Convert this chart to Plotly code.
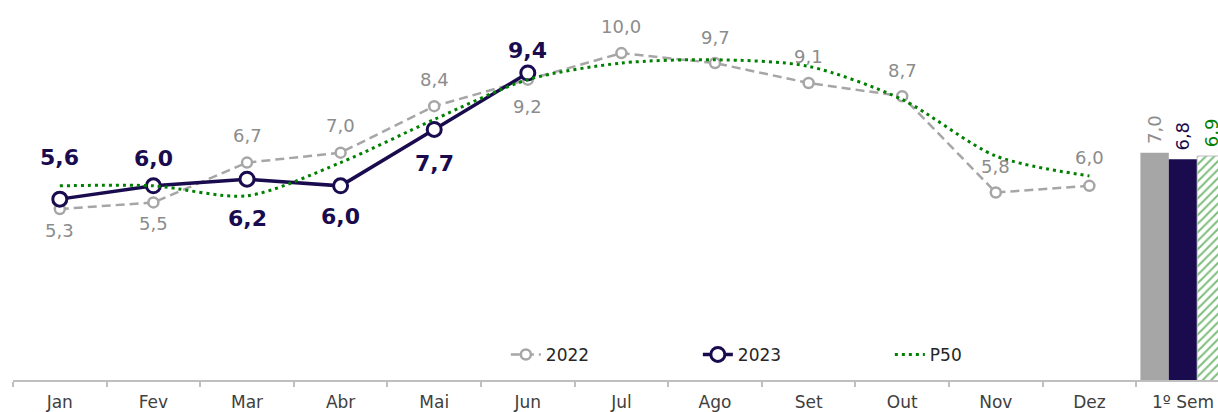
import plotly.graph_objects as go

months = ["Jan", "Fev", "Mar", "Abr", "Mai", "Jun", "Jul", "Ago", "Set", "Out", "Nov", "Dez"]
semester_label = "1º Sem"
categories = months + [semester_label]

v2022 = [5.3, 5.5, 6.7, 7.0, 8.4, 9.2, 10.0, 9.7, 9.1, 8.7, 5.8, 6.0]
v2023 = [5.6, 6.0, 6.2, 6.0, 7.7, 9.4]
p50 = [6.0, 6.0, 5.7, 6.7, 8.0, 9.2, 9.7, 9.8, 9.6, 8.6, 6.9, 6.3]

sem_2022 = 7.0
sem_2023 = 6.8
sem_p50 = 6.9

# label offsets (pixels, positive = above)
shift_2022 = [-21, -21, 27, 27, 27, -27, 27, 26, 26, 26, 26, 28]
shift_2023 = [42, 27, -39, -31, -34, 23]

GRAY = "#a6a6a6"
GRAY_TXT = "#8c8c8c"
NAVY = "#1a0b4f"
GREEN = "#008000"
FONT = "DejaVu Sans"

def fmt(v):
    return f"{v:.1f}".replace(".", ",")

fig = go.Figure()

fig.add_trace(go.Scatter(
    x=months, y=v2022, name="2022", mode="lines+markers",
    line=dict(color=GRAY, width=2.5, dash="9px,5px"),
    marker=dict(size=10, color="white", line=dict(color=GRAY, width=2.5)),
))
fig.add_trace(go.Scatter(
    x=months[:len(v2023)], y=v2023, name="2023", mode="lines+markers",
    line=dict(color=NAVY, width=3.5),
    marker=dict(size=14, color="white", line=dict(color=NAVY, width=3)),
))
fig.add_trace(go.Scatter(
    x=months, y=p50, name="P50", mode="lines",
    line=dict(color=GREEN, width=3, dash="3px,4px", shape="spline", smoothing=0.8),
))

bar_common = dict(textposition="outside", textangle=-90, constraintext="none",
                  showlegend=False, cliponaxis=False)
fig.add_trace(go.Bar(
    x=[semester_label], y=[sem_2022], text=["\u00a0" + fmt(sem_2022)],
    marker=dict(color=GRAY, line=dict(width=0)),
    textfont=dict(color=GRAY_TXT, size=18, family=FONT), **bar_common))
fig.add_trace(go.Bar(
    x=[semester_label], y=[sem_2023], text=["\u00a0" + fmt(sem_2023)],
    marker=dict(color=NAVY, line=dict(width=0)),
    textfont=dict(color=NAVY, size=18, family=FONT), **bar_common))
fig.add_trace(go.Bar(
    x=[semester_label], y=[sem_p50], text=["\u00a0" + fmt(sem_p50)],
    marker=dict(color="white", line=dict(color="#bfbfbf", width=1),
                pattern=dict(shape="/", fgcolor=GREEN, bgcolor="white", size=6, solidity=0.35)),
    textfont=dict(color=GREEN, size=18, family=FONT), **bar_common))

annotations = []
for m, v, s in zip(months, v2022, shift_2022):
    annotations.append(dict(x=m, y=v, text=fmt(v), showarrow=False, yshift=s,
                            font=dict(color=GRAY_TXT, size=18, family=FONT)))
for m, v, s in zip(months, v2023, shift_2023):
    annotations.append(dict(x=m, y=v, text="<b>" + fmt(v) + "</b>", showarrow=False, yshift=s,
                            font=dict(color=NAVY, size=22, family=FONT)))

fig.update_layout(
    width=1218, height=412,
    margin=dict(l=13, r=0, t=0, b=32, autoexpand=False),
    paper_bgcolor="white", plot_bgcolor="white",
    font=dict(family=FONT, size=17, color="#404040"),
    barmode="group", bargap=0.09, bargroupgap=0,
    annotations=annotations,
    legend=dict(orientation="h", x=0.409, xanchor="left", y=0.066, yanchor="middle",
                font=dict(size=17, color="#262626", family=FONT),
                entrywidth=147, entrywidthmode="pixels", bgcolor="rgba(0,0,0,0)"),
    xaxis=dict(type="category", categoryorder="array", categoryarray=categories,
               range=[-0.5, 12.374], showgrid=False, showline=True, automargin=False,
               linecolor="#bfbfbf", linewidth=1.5, ticks="outside", tickson="boundaries",
               ticklen=5, tickcolor="#bfbfbf", tickwidth=1.5, ticklabelstandoff=6,
               tickfont=dict(size=17, color="#404040", family=FONT), fixedrange=True),
    yaxis=dict(range=[0.15, 11.6], visible=False, showgrid=False, zeroline=False,
               automargin=False),
)

fig.write_html("out.html")
